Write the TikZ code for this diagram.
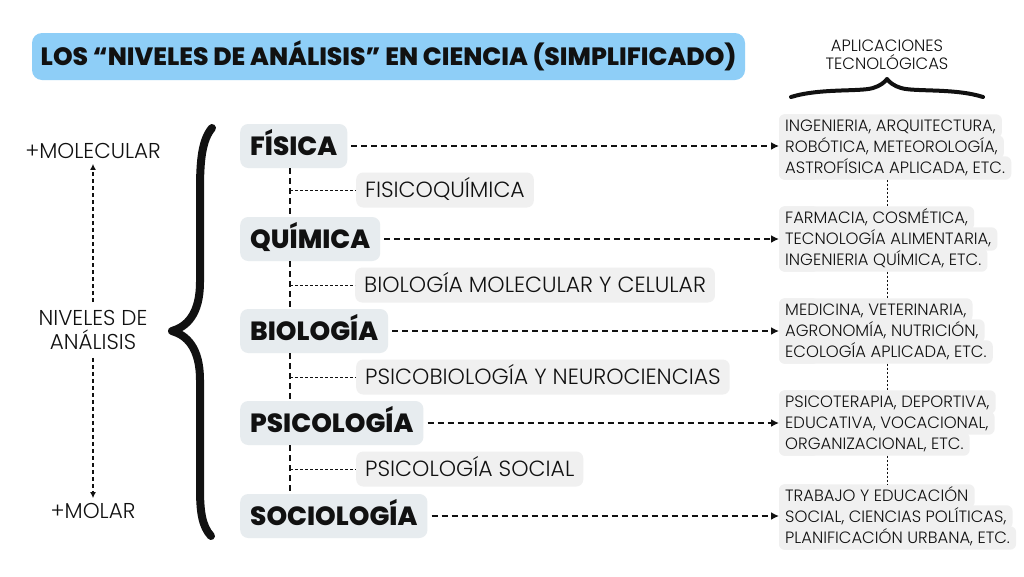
\documentclass[tikz,border=0pt]{standalone}
\usepackage{fontspec}
\setmainfont{Poppins}
\newfontfamily\lightf{Poppins Light}
\newfontfamily\heavyf{Poppins ExtraBold}
\usetikzlibrary{arrows.meta,calc,backgrounds}
\definecolor{titleblue}{HTML}{8ECEF7}
\definecolor{mainfill}{HTML}{E7ECEF}
\definecolor{subfill}{HTML}{F0F0F0}
\definecolor{ink}{HTML}{111111}
\begin{document}
\begin{tikzpicture}[x=1pt,y=-1pt,
  titlebox/.style={fill=titleblue, rounded corners=10pt, minimum width=713pt, minimum height=47pt, inner sep=0pt, text height=17.5pt, text depth=0pt, font=\heavyf\fontsize{25}{30}\selectfont, text=ink},
  mainbox/.style={fill=mainfill, rounded corners=8pt, inner xsep=10pt, inner ysep=0pt, minimum height=44pt, anchor=west, text height=18.5pt, text depth=0pt, font=\heavyf\fontsize{26.3}{30}\selectfont, text=ink},
  subbox/.style={fill=subfill, rounded corners=7pt, inner xsep=9pt, inner ysep=0pt, minimum height=35pt, anchor=west, text height=15.4pt, text depth=0pt, font=\lightf\fontsize{22}{26}\selectfont, text=ink},
  appline/.style={inner xsep=6pt, inner ysep=0pt, minimum height=23pt, anchor=west, text height=11.5pt, text depth=0pt, font=\lightf\fontsize{16.4}{20}\selectfont, text=ink},
  lbl/.style={font=\lightf\fontsize{21.5}{24}\selectfont, text=ink, align=center, inner sep=5pt},
  toplbl/.style={font=\lightf\fontsize{16.4}{18.5}\selectfont, text=ink, align=center},
  bigarrow/.style={draw=ink, line width=1.8pt, dash pattern=on 6pt off 4pt, -{Latex[length=8pt,width=8pt]}, shorten <=4pt},
  spineline/.style={draw=ink, line width=2pt, dash pattern=on 6pt off 4pt},
  twig/.style={draw=ink, line width=1pt, dash pattern=on 3pt off 2pt},
  vlevel/.style={draw=ink, line width=1.6pt, dash pattern=on 4pt off 3pt, -{Latex[length=6pt,width=6pt]}},
  appdot/.style={draw=ink, line width=0.8pt, dash pattern=on 2pt off 2pt},
  brace/.style={draw=ink, line cap=round, line join=round}
]
\useasboundingbox (0,0) rectangle (1024,576);

% title
\node[titlebox] (title) at (388.5,56.5) {LOS “NIVELES DE ANÁLISIS” EN CIENCIA (SIMPLIFICADO)};

% top label and brace
\node[toplbl] (apl) at (887,55) {APLICACIONES\\TECNOLÓGICAS};
\draw[brace, line width=4pt] (791,97) .. controls (820,88) and (860,92) .. (873,88) .. controls (880,86) and (885,82) .. (887,79) .. controls (889,82) and (894,86) .. (901,88) .. controls (914,92) and (955,88) .. (983,97);

% left labels
\node[lbl] (mol) at (93,151) {+MOLECULAR};
\node[lbl, inner ysep=8pt] (niv) at (93,330) {NIVELES DE\\ANÁLISIS};
\node[lbl] (molar) at (93,511) {+MOLAR};
\draw[vlevel] (niv.north) -- (mol.south);
\draw[vlevel] (niv.south) -- (molar.north);

% big brace
\draw[brace, line width=8pt] (212,128) .. controls (202,140) and (200,160) .. (200,190) -- (200,282) .. controls (200,315) and (186,327) .. (172,331) .. controls (186,335) and (200,347) .. (200,380) -- (200,488) .. controls (200,512) and (202,526) .. (211,536);

% main nodes
\node[mainbox] (fis) at (240,146) {FÍSICA};
\node[mainbox] (qui) at (240,239) {QUÍMICA};
\node[mainbox] (bio) at (240,331) {BIOLOGÍA};
\node[mainbox] (psi) at (240,423) {PSICOLOGÍA};
\node[mainbox] (soc) at (240,516) {SOCIOLOGÍA};

% sub nodes
\node[subbox] (s1) at (356,190) {FISICOQUÍMICA};
\node[subbox] (s2) at (355,285) {BIOLOGÍA MOLECULAR Y CELULAR};
\node[subbox] (s3) at (356,377) {PSICOBIOLOGÍA Y NEUROCIENCIAS};
\node[subbox] (s4) at (356,469) {PSICOLOGÍA SOCIAL};

% spine
\coordinate (sp) at (290,0);
\draw[spineline] (fis.south -| sp) -- (qui.north -| sp);
\draw[spineline] (qui.south -| sp) -- (bio.north -| sp);
\draw[spineline] (bio.south -| sp) -- (psi.north -| sp);
\draw[spineline] (psi.south -| sp) -- (soc.north -| sp);
\foreach \s in {s1,s2,s3,s4} \draw[twig] (\s.west -| sp) -- (\s.west);

% application lines
\node[appline] (a1a) at (779,126) {INGENIERIA, ARQUITECTURA,};
\node[appline] (a1b) at (779,147) {ROBÓTICA, METEOROLOGÍA,};
\node[appline] (a1c) at (779,168) {ASTROFÍSICA APLICADA, ETC.};
\node[appline] (a2a) at (779,218) {FARMACIA, COSMÉTICA,};
\node[appline] (a2b) at (779,239) {TECNOLOGÍA ALIMENTARIA,};
\node[appline] (a2c) at (779,260) {INGENIERIA QUÍMICA, ETC.};
\node[appline] (a3a) at (779,310) {MEDICINA, VETERINARIA,};
\node[appline] (a3b) at (779,331) {AGRONOMÍA, NUTRICIÓN,};
\node[appline] (a3c) at (779,352) {ECOLOGÍA APLICADA, ETC.};
\node[appline] (a4a) at (779,402) {PSICOTERAPIA, DEPORTIVA,};
\node[appline] (a4b) at (779,423) {EDUCATIVA, VOCACIONAL,};
\node[appline] (a4c) at (779,444) {ORGANIZACIONAL, ETC.};
\node[appline] (a5a) at (779,496) {TRABAJO Y EDUCACIÓN};
\node[appline] (a5b) at (779,517) {SOCIAL, CIENCIAS POLÍTICAS,};
\node[appline] (a5c) at (779,538) {PLANIFICACIÓN URBANA, ETC.};

\begin{scope}[on background layer]
  \fill[white] (0,0) rectangle (1024,576);
  \foreach \g in {1,...,5} {
    \foreach \l in {a,b,c} \fill[subfill, rounded corners=6pt] (a\g\l.north west) rectangle (a\g\l.south east);
    \fill[subfill, rounded corners=6pt] (a\g a.north west) rectangle ($(a\g c.south west)+(40,0)$);
  }
\end{scope}

% arrows to applications
\draw[bigarrow] (fis.east) -- (fis.east -| a1b.west);
\draw[bigarrow] (qui.east) -- (qui.east -| a2b.west);
\draw[bigarrow] (bio.east) -- (bio.east -| a3b.west);
\draw[bigarrow] (psi.east) -- (psi.east -| a4b.west);
\draw[bigarrow] (soc.east) -- (soc.east -| a5b.west);

% dotted links between application boxes
\coordinate (ax) at (887,0);
\draw[appdot] (a1c.south -| ax) -- (a2a.north -| ax);
\draw[appdot] (a2c.south -| ax) -- (a3a.north -| ax);
\draw[appdot] (a3c.south -| ax) -- (a4a.north -| ax);
\draw[appdot] (a4c.south -| ax) -- (a5a.north -| ax);
\end{tikzpicture}
\end{document}
